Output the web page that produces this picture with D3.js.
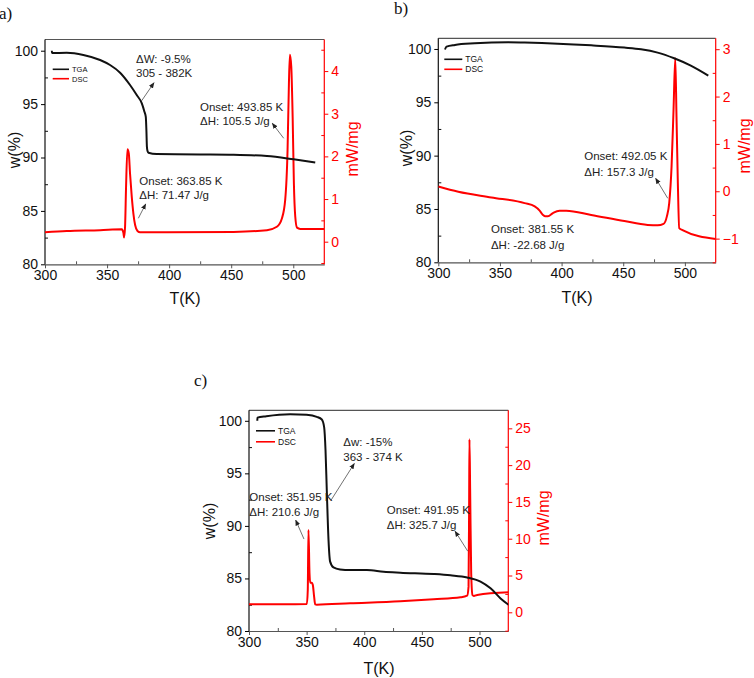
<!DOCTYPE html>
<html>
<head>
<meta charset="utf-8">
<script src="https://cdn.jsdelivr.net/npm/d3@7"></script>
<style>
  html, body { margin: 0; padding: 0; background: #fff; }
  svg { display: block; }
</style>
</head>
<body>
<svg id="chart" width="754" height="678"></svg>
<script>
// ---------------- DATA ----------------
const xTicks = [300, 350, 400, 450, 500];
const xMinor = [325, 375, 425, 475];
const wTicks = [80, 85, 90, 95, 100];
const wMinor = [82.5, 87.5, 92.5, 97.5];
const dscTicksA = [0, 1, 2, 3, 4];
const dscTicksB = [-1, 0, 1, 2, 3];
const dscTicksC = [0, 5, 10, 15, 20, 25];

// Panel a: [T (K), w (%)] and [T (K), mW/mg]
const tgaA = [[305.5,100.0],[305.6,99.78],[317.5,99.8],[330.9,99.6],[344.4,99.13],[352.4,98.66],[360.5,97.94],
  [368.5,96.79],[373.9,95.85],[378,95.07],[380.1,94.29],[381.2,93.8],[381.7,92.5],[382.1,91.0],[382.6,90.6],
  [383.3,90.45],[390,90.32],[425,90.29],[451.9,90.26],[478.8,90.14],[500.3,89.83],[517.7,89.54]];
const dscA = [[300,0.22],[317.5,0.25],[344.4,0.27],[361.9,0.29],[363.2,0.2],[363.7,0.10],[364.5,0.35],[365.3,1.29],
  [366.4,2.17],[367.5,2.07],[368.5,1.6],[369.9,1.05],[371.2,0.66],[372.6,0.39],[374.5,0.25],[376.6,0.22],[398.1,0.22],
  [451.9,0.23],[478.8,0.27],[486.8,0.35],[490.9,0.55],[493.5,0.98],[495.4,2.15],[496.5,3.71],[497.3,4.38],[498.4,4.1],
  [499.5,2.93],[500.5,1.37],[501.6,0.59],[503,0.33],[505.6,0.30],[525,0.30]];

// Panel b
const tgaB = [[305.4,99.95],[306.7,100.22],[313.5,100.38],[329.6,100.53],[356.6,100.63],[370,100.6],[397,100.5],
  [424,100.34],[450.9,100.13],[464.4,99.97],[477.9,99.66],[491.3,99.13],[504.8,98.44],[519,97.5]];
const dscB = [[300,0.1],[316.2,-0.01],[343.1,-0.13],[370,-0.25],[378.2,-0.32],[382.2,-0.41],[384.9,-0.5],[386.8,-0.53],
  [388.9,-0.53],[393,-0.46],[398.4,-0.41],[403.8,-0.41],[424,-0.5],[450.9,-0.63],[469.8,-0.71],[477.9,-0.72],
  [482.7,-0.69],[485.4,-0.53],[487.3,-0.25],[489.2,0.52],[490.8,1.72],[492.2,2.81],[493.2,1.58],[494.3,0.17],
  [495.4,-0.78],[498.1,-0.82],[525,-1.01]];

// Panel c
const tgaC = [[307.2,100.0],[307.3,100.3],[315,100.44],[335.7,100.63],[350,100.57],[358.8,100.38],[363.2,100.13],
  [365.2,99.4],[366.4,97.2],[367.5,93.4],[369,88.65],[370.4,86.6],[373.3,86.05],[379,85.86],[387.8,85.8],[402.3,85.8],
  [416.8,85.64],[431.3,85.55],[460.3,85.42],[474.8,85.3],[489.3,85.1],[500.9,84.7],[509.6,84.06],[518.3,83.1],[525.5,82.47]];
const dscC = [[300,1.09],[329.9,1.09],[350.2,1.13],[351,3.03],[351.6,11.19],[352.5,5.3],[353.1,4.03],[354.5,4.03],
  [355.4,3.71],[356.5,2.13],[357.4,1.09],[358.8,1.04],[387.8,1.22],[431.3,1.49],[460.3,1.77],[483.5,2.04],[489.3,2.26],
  [490.5,3.49],[491,14.4],[491.3,23.5],[491.9,16.6],[492.8,5.3],[493.9,2.36],[495.1,2.22],[498,2.36],[525.5,2.72]];

// Annotations: [T, w] anchor in data units, text lines
const notesA = [
  {at: [373.3, 98.85], lines: ["\u0394W: -9.5%", "305 - 382K"], arrow: [[377.9, 95.32], [387.8, 97.0]]},
  {at: [424.9, 94.35], lines: ["Onset: 493.85 K", "\u0394H: 105.5 J/g"], arrow: [[492.3, 91.8], [483.1, 93.2]]},
  {at: [376.0, 87.42], lines: ["Onset: 363.85 K", "\u0394H: 71.47 J/g"], arrow: [[375.2, 84.31], [381.1, 85.65]]}
];
const notesB = [
  {at: [418.4, 89.59], lines: ["Onset: 492.05 K", "\u0394H: 157.3 J/g"], arrow: [[486.1, 86.0], [476.3, 87.87]]},
  {at: [342.7, 82.77], lines: ["Onset: 381.55 K", "\u0394H: -22.68 J/g"], arrow: null}
];
const notesC = [
  {at: [381.8, 97.61], lines: ["\u0394w: -15%", "363 - 374 K"], arrow: [[371.2, 92.45], [391.4, 95.94]]},
  {at: [300.3, 92.39], lines: ["Onset: 351.95 K", "\u0394H: 210.6 J/g"], arrow: [[347.7, 88.75], [340.5, 90.55]]},
  {at: [419.5, 91.12], lines: ["Onset: 491.95 K", "\u0394H: 325.7 J/g"], arrow: [[489.8, 87.6], [478.8, 89.5]]}
];

// ---------------- DRAW ----------------
const SANS = "'Liberation Sans', Arial, sans-serif";
const SERIF = "'Liberation Serif', 'Times New Roman', serif";
const svg = d3.select("#chart").style("font-family", SANS);
const RED = "#ff0000";
const GREY = "#555";

svg.append("defs").append("marker")
  .attr("id", "arrowhead").attr("viewBox", "0 0 10 10")
  .attr("refX", 9).attr("refY", 5)
  .attr("markerWidth", 6).attr("markerHeight", 6)
  .attr("markerUnits", "userSpaceOnUse")
  .attr("orient", "auto")
  .append("path").attr("d", "M0,1 L10,5 L0,9 Z").attr("fill", "#222");

function panel(cfg, idx) {
  const {left, right, top, bottom} = cfg;
  const x = d3.scaleLinear().domain([300, 525]).range([left, right]);
  const yW = d3.scaleLinear().domain(cfg.wDomain).range([bottom, top]);
  const yD = d3.scaleLinear().domain(cfg.dDomain).range([bottom, top]);
  const g = svg.append("g");

  g.append("clipPath").attr("id", "clip" + idx).append("rect")
    .attr("x", left).attr("y", top).attr("width", right - left).attr("height", bottom - top);

  // Frame: top line
  g.append("line").attr("x1", left).attr("x2", right).attr("y1", top).attr("y2", top)
    .attr("stroke", GREY).attr("stroke-width", 1.2);

  // Bottom axis
  const xAx = g.append("g").attr("transform", `translate(0,${bottom})`)
    .call(d3.axisBottom(x).tickValues(xTicks).tickSize(4).tickSizeOuter(0).tickPadding(2).tickFormat(d3.format("d")));
  xAx.attr("font-family", null);
  xAx.select(".domain").attr("stroke", GREY).attr("stroke-width", 1.2);
  xAx.selectAll(".tick line").attr("stroke", GREY);
  xAx.selectAll("text").attr("font-size", 14).attr("fill", "#111");
  g.append("g").attr("transform", `translate(0,${bottom})`)
    .call(d3.axisBottom(x).tickValues(xMinor).tickSize(-3).tickFormat(""))
    .call(s => s.select(".domain").remove())
    .selectAll("line").attr("stroke", GREY);

  // Left axis
  const yAx = g.append("g").attr("transform", `translate(${left},0)`)
    .call(d3.axisLeft(yW).tickValues(wTicks).tickSize(4).tickSizeOuter(0).tickPadding(3).tickFormat(d3.format("d")));
  yAx.attr("font-family", null);
  yAx.select(".domain").attr("stroke", "#111").attr("stroke-width", 1.2)
    .attr("d", `M0,${top}V${bottom}`);
  yAx.selectAll("text").attr("font-size", 14).attr("fill", "#111");
  g.append("g").attr("transform", `translate(${left},0)`)
    .call(d3.axisLeft(yW).tickValues(wMinor).tickSize(-3).tickFormat(""))
    .call(s => s.select(".domain").remove())
    .selectAll("line").attr("stroke", "#111");

  // Right axis
  const rAx = g.append("g").attr("transform", `translate(${right},0)`)
    .call(d3.axisRight(yD).tickValues(cfg.dTicks).tickSize(4).tickSizeOuter(0).tickPadding(3).tickFormat(d3.format("d")));
  rAx.attr("font-family", null);
  rAx.select(".domain").attr("stroke", RED).attr("stroke-width", 1.2)
    .attr("d", `M0,${top}V${bottom}`);
  rAx.selectAll(".tick line").attr("stroke", RED);
  rAx.selectAll("text").attr("font-size", 14).attr("fill", RED);
  const half = (cfg.dTicks[1] - cfg.dTicks[0]) / 2;
  const dMinor = d3.range(Math.ceil(cfg.dDomain[0] / half), Math.floor(cfg.dDomain[1] / half) + 1)
    .filter(k => k % 2 !== 0).map(k => k * half);
  g.append("g").attr("transform", `translate(${right},0)`)
    .call(d3.axisRight(yD).tickValues(dMinor).tickSize(-3).tickFormat(""))
    .call(s => s.select(".domain").remove())
    .selectAll("line").attr("stroke", RED);

  // Curves
  const plot = g.append("g").attr("clip-path", `url(#clip${idx})`);
  plot.append("path").datum(cfg.dsc)
    .attr("d", d3.line().x(d => x(d[0])).y(d => yD(d[1])).curve(d3.curveMonotoneX))
    .attr("fill", "none").attr("stroke", RED).attr("stroke-width", 2);
  plot.append("path").datum(cfg.tga)
    .attr("d", d3.line().x(d => x(d[0])).y(d => yW(d[1])).curve(d3.curveMonotoneX))
    .attr("fill", "none").attr("stroke", "#111").attr("stroke-width", 2);

  // Legend
  const lg = cfg.legend;
  [["TGA", "#111"], ["DSC", RED]].forEach(([name, col], i) => {
    const yy = top + lg.y0 + i * lg.dy;
    g.append("line").attr("x1", left + lg.x0).attr("x2", left + lg.x1).attr("y1", yy).attr("y2", yy)
      .attr("stroke", col).attr("stroke-width", 1.6);
    g.append("text").attr("x", left + lg.x1 + 3).attr("y", yy + 2.8)
      .attr("font-size", lg.fs).attr("fill", "#111").text(name);
  });

  // Annotations
  cfg.notes.forEach(n => {
    const t = g.append("text").attr("font-size", 11.5).attr("fill", "#222");
    n.lines.forEach((ln, i) => {
      t.append("tspan").attr("x", x(n.at[0])).attr("y", yW(n.at[1]) + i * cfg.lineGap).text(ln);
    });
    if (n.arrow) {
      g.append("line")
        .attr("x1", x(n.arrow[0][0])).attr("y1", yW(n.arrow[0][1]))
        .attr("x2", x(n.arrow[1][0])).attr("y2", yW(n.arrow[1][1]))
        .attr("stroke", "#333").attr("stroke-width", 0.7)
        .attr("marker-end", "url(#arrowhead)");
    }
  });

  // Axis titles
  g.append("text").attr("x", cfg.tPos[0]).attr("y", cfg.tPos[1]).attr("text-anchor", "middle")
    .attr("dominant-baseline", "central").attr("font-size", 16).attr("fill", "#111").text("T(K)");
  g.append("text").attr("transform", `translate(${cfg.wPos[0]},${cfg.wPos[1]}) rotate(-90)`)
    .attr("text-anchor", "middle").attr("dominant-baseline", "central")
    .attr("font-size", 16).attr("fill", "#111").text("w(%)");
  g.append("text").attr("transform", `translate(${cfg.mPos[0]},${cfg.mPos[1]}) rotate(-90)`)
    .attr("text-anchor", "middle").attr("dominant-baseline", "central")
    .attr("font-size", 16).attr("fill", RED).text("mW/mg");

  // Panel label
  g.append("text").attr("x", cfg.label[0]).attr("y", cfg.label[1])
    .style("font-family", SERIF)
    .attr("font-size", 17).attr("fill", "#111").text(cfg.labelText);
}

panel({
  left: 45, right: 324.3, top: 39.5, bottom: 264.3,
  wDomain: [80, 101.05], dDomain: [-0.53, 4.74], dTicks: dscTicksA,
  tga: tgaA, dsc: dscA, notes: notesA, lineGap: 14,
  legend: {x0: 7.7, x1: 24, y0: 29.8, dy: 9.4, fs: 7.5},
  tPos: [185, 298], wPos: [14, 150], mPos: [352.5, 149], label: [-1, 19], labelText: "a)"
}, 0);

panel({
  left: 438.3, right: 715.7, top: 38.3, bottom: 262.3,
  wDomain: [80, 101.0], dDomain: [-1.5, 3.23], dTicks: dscTicksB,
  tga: tgaB, dsc: dscB, notes: notesB, lineGap: 16,
  legend: {x0: 6, x1: 24, y0: 21, dy: 10, fs: 8.5},
  tPos: [577, 297], wPos: [406, 148], mPos: [744.5, 146], label: [394, 14], labelText: "b)"
}, 1);

panel({
  left: 249, right: 508.3, top: 410.3, bottom: 631,
  wDomain: [80, 101.0], dDomain: [-2.54, 27.45], dTicks: dscTicksC,
  tga: tgaC, dsc: dscC, notes: notesC, lineGap: 15,
  legend: {x0: 7, x1: 26, y0: 20.5, dy: 11, fs: 8.5},
  tPos: [379, 668], wPos: [209, 521], mPos: [543, 518], label: [194, 386], labelText: "c)"
}, 2);
</script>
</body>
</html>
